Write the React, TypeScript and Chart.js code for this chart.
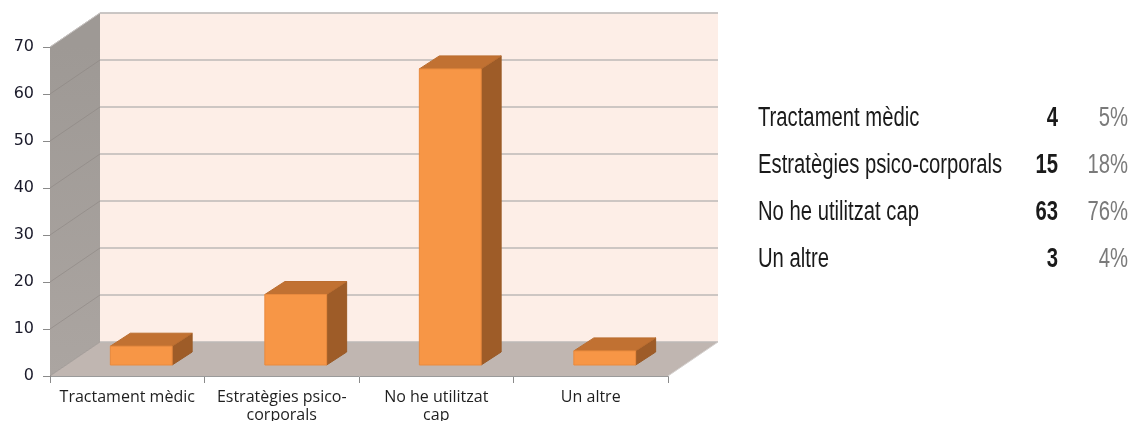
import React, { useEffect, useRef } from "react";
import { Chart, registerables } from "chart.js";
Chart.register(...registerables);

// ---- data ----
const categories: string[][] = [
  ["Tractament mèdic"],
  ["Estratègies psico-", "corporals"],
  ["No he utilitzat", "cap"],
  ["Un altre"],
];
const tableLabels: string[] = [
  "Tractament mèdic",
  "Estratègies psico-corporals",
  "No he utilitzat cap",
  "Un altre",
];
const counts: number[] = [4, 15, 63, 3];
const percents: string[] = ["5%", "18%", "76%", "4%"];
const yMin = 0;
const yMax = 70;
const yStep = 10;

// ---- style constants ----
const WALL_DX = 50;
const WALL_DY = -34;
const BAR_FRONT_DX = 14;
const BAR_FRONT_DY = -11;
const BAR_SIDE_DX = 20;
const BAR_SIDE_DY = -13;
const BAR_RATIO = 0.4;

const poly = (ctx: CanvasRenderingContext2D, pts: number[][], fill: any, stroke?: string) => {
  ctx.beginPath();
  ctx.moveTo(pts[0][0], pts[0][1]);
  for (let i = 1; i < pts.length; i++) ctx.lineTo(pts[i][0], pts[i][1]);
  ctx.closePath();
  ctx.fillStyle = fill;
  ctx.fill();
  if (stroke) {
    ctx.strokeStyle = stroke;
    ctx.lineWidth = 1;
    ctx.stroke();
  }
};

const threeD = {
  id: "threeD",
  beforeDatasetsDraw(chart: any) {
    const ctx: CanvasRenderingContext2D = chart.ctx;
    const { left, right, bottom } = chart.chartArea;
    const ys = chart.scales.y;
    const yTop = ys.getPixelForValue(yMax);
    const y0 = ys.getPixelForValue(yMin);
    ctx.save();
    poly(ctx, [
      [left + WALL_DX, yTop + WALL_DY],
      [right + WALL_DX, yTop + WALL_DY],
      [right + WALL_DX, y0 + WALL_DY],
      [left + WALL_DX, y0 + WALL_DY],
    ], "#fdeee7");
    const g = ctx.createLinearGradient(0, yTop, 0, y0);
    g.addColorStop(0, "#9e9995");
    g.addColorStop(1, "#aba5a1");
    poly(ctx, [
      [left, yTop],
      [left + WALL_DX, yTop + WALL_DY],
      [left + WALL_DX, y0 + WALL_DY],
      [left, y0],
    ], g);
    poly(ctx, [
      [left, bottom],
      [right, bottom],
      [right + WALL_DX, bottom + WALL_DY],
      [left + WALL_DX, bottom + WALL_DY],
    ], "#c0b6b1");
    for (let v = yMin; v <= yMax; v += yStep) {
      const y = ys.getPixelForValue(v);
      ctx.beginPath();
      ctx.strokeStyle = "#bdb9b7";
      ctx.lineWidth = 1.5;
      ctx.moveTo(left + WALL_DX, y + WALL_DY);
      ctx.lineTo(right + WALL_DX, y + WALL_DY);
      ctx.stroke();
      ctx.beginPath();
      ctx.strokeStyle = "rgba(140,134,130,0.6)";
      ctx.lineWidth = 1;
      ctx.moveTo(left, y);
      ctx.lineTo(left + WALL_DX, y + WALL_DY);
      ctx.stroke();
    }
    ctx.beginPath();
    ctx.strokeStyle = "#c8c4c2";
    ctx.lineWidth = 1;
    ctx.moveTo(left, yTop);
    ctx.lineTo(left + WALL_DX, yTop + WALL_DY);
    ctx.lineTo(right + WALL_DX, yTop + WALL_DY);
    ctx.stroke();
    ctx.beginPath();
    ctx.strokeStyle = "#d4d0ce";
    ctx.moveTo(right, bottom);
    ctx.lineTo(right + WALL_DX, bottom + WALL_DY);
    ctx.stroke();
    ctx.restore();
  },
  afterDatasetsDraw(chart: any) {
    const ctx: CanvasRenderingContext2D = chart.ctx;
    const xs = chart.scales.x;
    const ys = chart.scales.y;
    const catW = (chart.chartArea.right - chart.chartArea.left) / counts.length;
    const bw = catW * BAR_RATIO;
    ctx.save();
    counts.forEach((v, i) => {
      const cx = xs.getPixelForValue(i);
      const x0 = cx - bw / 2 + BAR_FRONT_DX;
      const x1 = x0 + bw;
      const yb = ys.getPixelForValue(0) + BAR_FRONT_DY;
      const yt = ys.getPixelForValue(v) + BAR_FRONT_DY;
      poly(ctx, [
        [x1, yt],
        [x1 + BAR_SIDE_DX, yt + BAR_SIDE_DY],
        [x1 + BAR_SIDE_DX, yb + BAR_SIDE_DY],
        [x1, yb],
      ], "#9e5c28", "#9a5a26");
      poly(ctx, [
        [x0, yt],
        [x1, yt],
        [x1 + BAR_SIDE_DX, yt + BAR_SIDE_DY],
        [x0 + BAR_SIDE_DX, yt + BAR_SIDE_DY],
      ], "#c17132", "#bb6d2f");
      poly(ctx, [
        [x0, yt],
        [x1, yt],
        [x1, yb],
        [x0, yb],
      ], "#f79646", "#e98a3e");
    });
    ctx.restore();
  },
};

function ChartCanvas() {
  const ref = useRef<HTMLCanvasElement | null>(null);
  useEffect(() => {
    if (!ref.current) return;
    const chart = new Chart(ref.current, {
      type: "bar",
      data: {
        labels: categories as any,
        datasets: [
          {
            data: counts,
            backgroundColor: "rgba(0,0,0,0)",
            borderWidth: 0,
          },
        ],
      },
      options: {
        animation: false,
        responsive: false,
        maintainAspectRatio: false,
        events: [],
        layout: { padding: { top: 47, right: 72, left: 0, bottom: 0 } },
        plugins: { legend: { display: false }, tooltip: { enabled: false } },
        scales: {
          x: {
            type: "category",
            offset: true,
            grid: {
              offset: true,
              drawOnChartArea: false,
              drawTicks: true,
              tickLength: 7,
              color: "#8a8a8a",
            },
            border: { display: true, color: "#9a9a9a", width: 1 },
            ticks: {
              autoSkip: false,
              maxRotation: 0,
              minRotation: 0,
              padding: 5,
              color: "#1f1f1f",
              font: { family: "'Open Sans', sans-serif", size: 16, lineHeight: 1.15 },
            },
            afterFit: (s: any) => {
              s.height = 45;
            },
          },
          y: {
            min: yMin,
            max: yMax,
            grid: {
              drawOnChartArea: false,
              drawTicks: true,
              tickLength: 7,
              color: "#8a8a8a",
            },
            border: { display: true, color: "#8a8a8a", width: 1 },
            ticks: {
              stepSize: yStep,
              padding: 9,
              color: "#1a1a2a",
              font: { family: "'DejaVu Sans', sans-serif", size: 16 },
            },
            afterFit: (s: any) => {
              s.width = 50;
            },
          },
        },
      },
      plugins: [threeD],
    });
    return () => chart.destroy();
  }, []);
  return <canvas ref={ref} width={740} height={421} style={{ position: "absolute", left: 0, top: 0 }} />;
}

const rowCenters = [117, 164, 211, 258];

export default function App() {
  const tableFont = "'Liberation Sans', Arial, sans-serif";
  const cell = (extra: any): any => ({
    position: "absolute",
    top: 0,
    height: 34,
    lineHeight: "34px",
    fontFamily: tableFont,
    fontSize: 27,
    whiteSpace: "nowrap",
    ...extra,
  });
  return (
    <div
      style={{
        position: "fixed",
        left: 0,
        top: 0,
        width: 1136,
        height: 421,
        background: "#ffffff",
        overflow: "hidden",
      }}
    >
      <ChartCanvas />
      {tableLabels.map((lab, i) => (
        <div key={i} style={{ position: "absolute", left: 0, top: rowCenters[i] - 17, width: 1136, height: 34 }}>
          <div style={cell({ left: 758, color: "#1a1a1a", transform: "scaleX(0.75)", transformOrigin: "left center" })}>
            {lab}
          </div>
          <div
            style={cell({
              right: 1136 - 1058,
              fontWeight: "bold",
              color: "#1a1a1a",
              transform: "scaleX(0.75)",
              transformOrigin: "right center",
            })}
          >
            {counts[i]}
          </div>
          <div style={cell({ right: 1136 - 1128, color: "#7a7a7a", transform: "scaleX(0.75)", transformOrigin: "right center" })}>
            {percents[i]}
          </div>
        </div>
      ))}
    </div>
  );
}
